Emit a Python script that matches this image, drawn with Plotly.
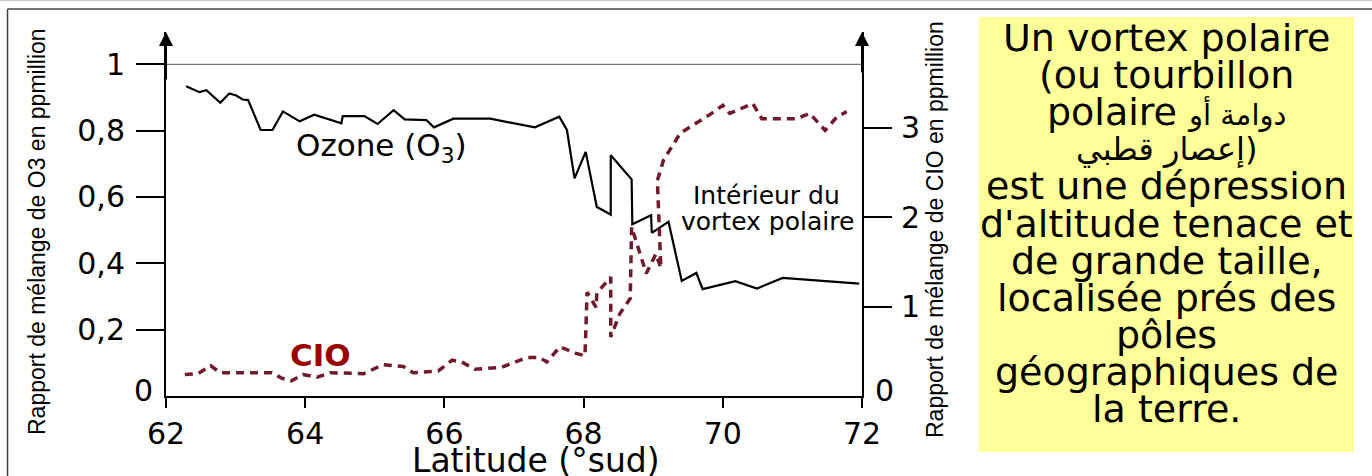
import plotly.graph_objects as go

# ---------------- data ----------------
lat_o3 = [62.29, 62.48, 62.58, 62.78, 62.91, 63.01, 63.10, 63.18, 63.36, 63.53,
          63.68, 63.92, 64.13, 64.52, 64.54, 64.85, 65.04, 65.27, 65.43, 65.74,
          65.85, 66.13, 66.66, 67.30, 67.65, 67.76, 67.87, 68.03, 68.19, 68.39,
          68.39, 68.69, 68.70, 68.97, 68.98, 69.22, 69.41, 69.62, 69.71, 70.18,
          70.49, 70.86, 71.96]
o3 = [0.934, 0.916, 0.922, 0.884, 0.912, 0.906, 0.894, 0.892, 0.802, 0.802,
      0.858, 0.828, 0.848, 0.822, 0.844, 0.844, 0.820, 0.862, 0.834, 0.832,
      0.810, 0.836, 0.836, 0.810, 0.842, 0.802, 0.656, 0.736, 0.570, 0.547,
      0.726, 0.653, 0.518, 0.545, 0.492, 0.525, 0.347, 0.371, 0.322, 0.346,
      0.324, 0.356, 0.339]

lat_clo = [62.27, 62.46, 62.64, 62.78, 63.52, 63.66, 63.80, 63.97, 64.17, 64.36,
           64.84, 65.12, 65.41, 65.55, 65.91, 66.11, 66.25, 66.44, 66.82, 67.18,
           67.37, 67.47, 67.66, 67.88, 68.02, 68.05, 68.18, 68.19, 68.39, 68.39,
           68.52, 68.67, 68.69, 68.90, 69.04, 69.11, 69.06, 69.15, 69.39, 69.58,
           69.84, 70.00, 70.10, 70.43, 70.56, 71.06, 71.25, 71.47, 71.64, 71.78]
clo = [0.24, 0.25, 0.34, 0.26, 0.26, 0.20, 0.17, 0.24, 0.21, 0.26,
       0.25, 0.35, 0.33, 0.26, 0.28, 0.40, 0.38, 0.30, 0.32, 0.43,
       0.43, 0.38, 0.55, 0.48, 0.45, 1.16, 0.99, 1.15, 1.33, 0.66,
       0.92, 1.09, 1.89, 1.37, 1.59, 1.43, 2.41, 2.64, 2.94, 3.03,
       3.16, 3.25, 3.16, 3.27, 3.10, 3.10, 3.16, 2.97, 3.12, 3.18]

lat_ticks = [62, 64, 66, 68, 70, 72]
o3_ticks = [0.2, 0.4, 0.6, 0.8, 1.0]
o3_ticktext = ["0,2", "0,4", "0,6", "0,8", "1"]
clo_ticks = [1, 2, 3]
clo_ticktext = ["1", "2", "3"]

box_lines = [
    "Un vortex polaire",
    "(ou tourbillon",
    "polaire <span style='font-size:29px'>دوامة أو</span>",
    "<span style='font-size:32px'>إعصار قطبي)</span>",
    "est une dépression",
    "d'altitude tenace et",
    "de grande taille,",
    "localisée prés des",
    "pôles",
    "géographiques de",
    "la terre.",
]

# ---------------- layout geometry ----------------
W, H = 1372, 476
L, R, T, B = 166, 862, 32, 396           # plot area in pixels
Y_TOP = 1.0974                            # left axis top
Y2_TOP = 4.070                            # right axis top
FONT = "DejaVu Sans"
TITLE_FONT = "Liberation Sans, Arial, sans-serif"
CLO_COLOR = "#701a2e"


def px(x):
    return (x - L) / (R - L)


def py(y):
    return (B - y) / (B - T)


def text_ann(xp, yp, text, size, family=FONT, color="black", **kw):
    d = dict(x=px(xp), y=py(yp), xref="paper", yref="paper", text=text,
             showarrow=False, xanchor="center", yanchor="middle",
             font=dict(family=family, size=size, color=color))
    d.update(kw)
    return d


fig = go.Figure()
fig.add_trace(go.Scatter(x=lat_o3, y=o3, mode="lines", name="Ozone",
                         line=dict(color="black", width=2.2), yaxis="y"))
fig.add_trace(go.Scatter(x=lat_clo, y=clo, mode="lines", name="ClO",
                         line=dict(color=CLO_COLOR, width=3.5, dash="8px,6px"),
                         yaxis="y2"))

shapes = [
    # reference line at 1 ppm
    dict(type="line", xref="x", yref="y", x0=lat_ticks[0], x1=lat_ticks[-1], y0=1, y1=1,
         line=dict(color="#555555", width=1)),
    # outer frame
    dict(type="line", xref="paper", yref="paper", x0=px(0), x1=px(W), y0=py(0.5), y1=py(0.5),
         line=dict(color="#c8c8c8", width=1)),
    dict(type="line", xref="paper", yref="paper", x0=px(7.5), x1=px(W), y0=py(9), y1=py(9),
         line=dict(color="#444444", width=1.5)),
    dict(type="line", xref="paper", yref="paper", x0=px(7.5), x1=px(7.5), y0=py(9), y1=py(H),
         line=dict(color="#444444", width=1.5)),
    # yellow note box
    dict(type="rect", xref="paper", yref="paper", x0=px(979), x1=px(1354), y0=py(452), y1=py(17),
         fillcolor="#ffff99", line=dict(width=0), layer="below"),
]

ann = []
# axis arrows
ann.append(dict(x=lat_ticks[0], y=Y_TOP, xref="x", yref="y", ax=lat_ticks[0], ay=0.95,
                axref="x", ayref="y", showarrow=True, arrowhead=2, arrowsize=1.4,
                arrowwidth=2, arrowcolor="black", text=""))
ann.append(dict(x=lat_ticks[-1], y=Y2_TOP, xref="x", yref="y2", ax=lat_ticks[-1], ay=3.6,
                axref="x", ayref="y2", showarrow=True, arrowhead=2, arrowsize=1.4,
                arrowwidth=2, arrowcolor="black", text=""))
# zero labels
ann.append(text_ann(143, 390, "0", 30))
ann.append(text_ann(884, 390, "0", 30))
# axis titles
ann.append(text_ann(37, 232, "Rapport de mélange de O3 en ppmillion", 23,
                    family=TITLE_FONT, textangle=-90))
ann.append(text_ann(935, 230, "Rapport de mélange de CIO en ppmillion", 23,
                    family=TITLE_FONT, textangle=-90))
ann.append(text_ann(536, 460, "Latitude (°sud)", 33))
# series labels
ann.append(text_ann(381, 147, "Ozone (O<sub>3</sub>)", 31))
ann.append(text_ann(320, 355, "<b>CIO</b>", 31, color="#9a0000"))
ann.append(text_ann(766, 196, "Intérieur du", 25))
ann.append(text_ann(767, 222, "vortex polaire", 25))
# note box text
for i, line in enumerate(box_lines):
    ann.append(text_ann(1166.5, 38 + 37.1 * i, line, 38))

axis_common = dict(ticks="outside", tickwidth=1.5, tickcolor="black",
                   showline=True, linecolor="black", linewidth=2, showgrid=False,
                   zeroline=False, automargin=False,
                   tickfont=dict(family=FONT, size=30, color="black"))

fig.update_layout(
    width=W, height=H,
    margin=dict(l=L, r=W - R, t=T, b=H - B, pad=0, autoexpand=False),
    paper_bgcolor="white", plot_bgcolor="white",
    showlegend=False,
    xaxis=dict(range=[lat_ticks[0], lat_ticks[-1]], tickvals=lat_ticks,
               ticklen=10, ticklabelstandoff=0, **axis_common),
    yaxis=dict(range=[0, Y_TOP], tickvals=o3_ticks, ticktext=o3_ticktext,
               ticklen=28, ticklabelstandoff=5, **axis_common),
    yaxis2=dict(range=[0, Y2_TOP], tickvals=clo_ticks, ticktext=clo_ticktext,
                overlaying="y", side="right", anchor="x",
                ticklen=28, ticklabelstandoff=3, **axis_common),
    shapes=shapes,
    annotations=ann,
)

fig.write_html("out.html", config={"displayModeBar": False},
               post_script="document.body.style.margin='0';")
